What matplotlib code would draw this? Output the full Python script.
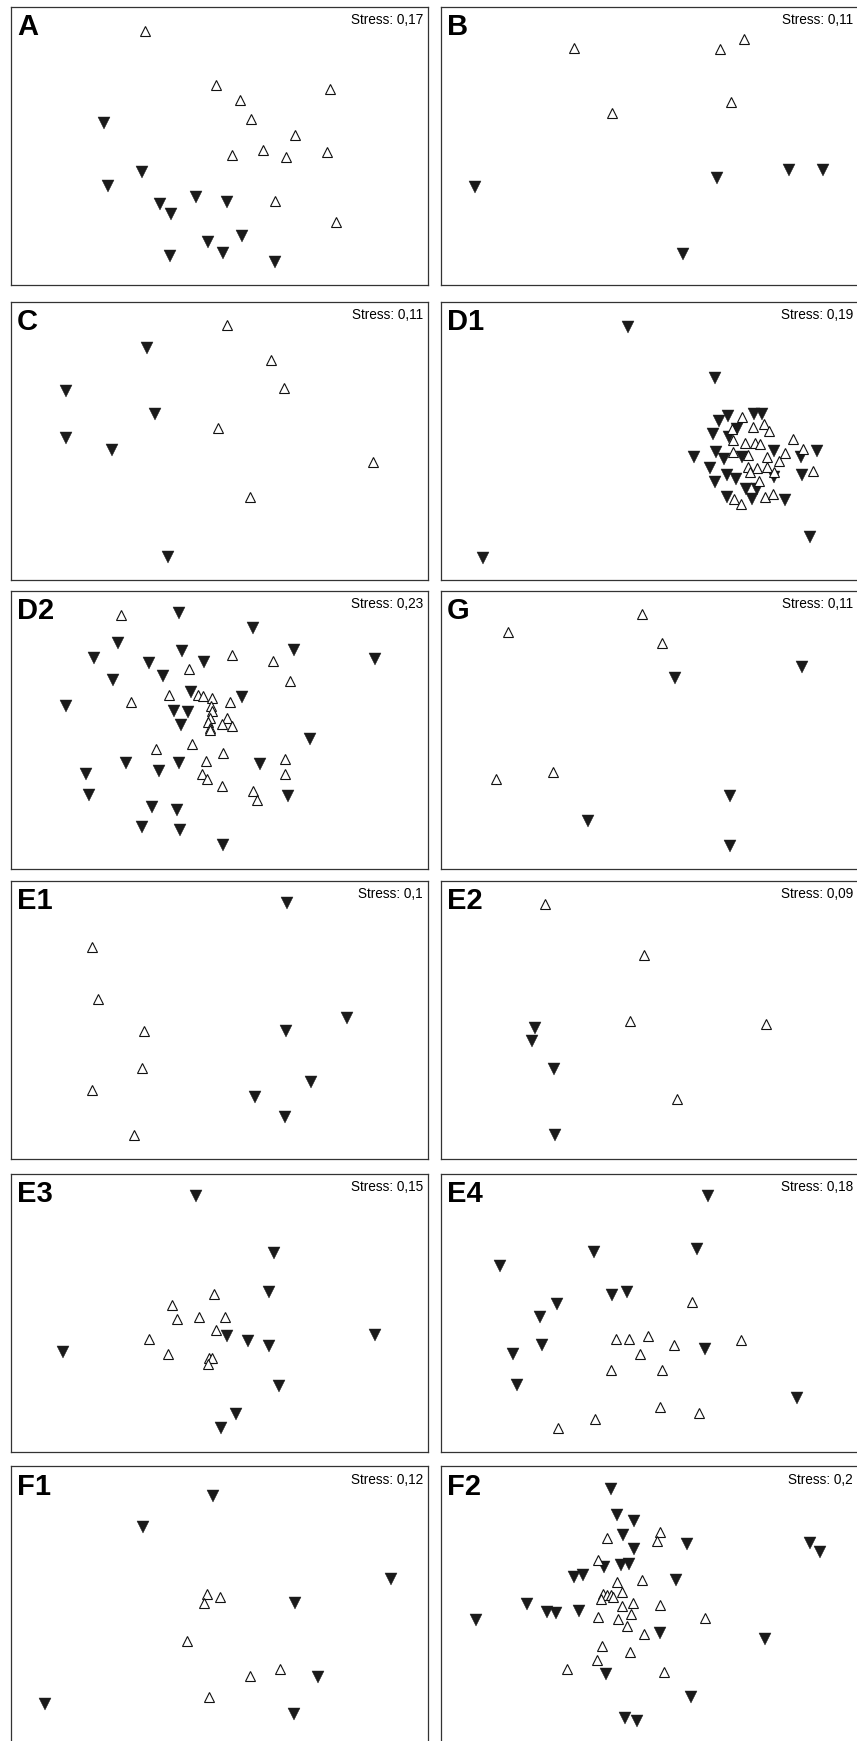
import matplotlib.pyplot as plt

# panel order, left->right, top->bottom
panels = ["A", "B", "C", "D1", "D2", "G", "E1", "E2", "E3", "E4", "F1", "F2"]
stress = ["0,17", "0,11", "0,11", "0,19", "0,23", "0,11",
          "0,1", "0,09", "0,15", "0,18", "0,12", "0,2"]

# MDS scores, as (x, y) in 0-100 of each frame
A_open = [(32.2, 91.5), (49.1, 71.8), (76.6, 70.5), (54.8, 66.4), (57.5, 59.7), (68.2, 54.1),
          (53.0, 46.8), (60.5, 48.4), (66.0, 45.9), (75.8, 47.8), (63.4, 30.3), (77.9, 22.6)]
A_fill = [(22.3, 58.2), (31.4, 40.7), (23.2, 35.7), (35.7, 29.1), (38.4, 25.6), (44.4, 31.5),
          (51.8, 30.0), (55.4, 17.6), (47.3, 15.4), (50.8, 11.4), (38.2, 10.4), (63.2, 8.3)]

B_open = [(31.9, 85.2), (67.0, 85.0), (72.6, 88.5), (69.5, 65.7), (41.1, 61.8)]
B_fill = [(8.2, 35.3), (66.1, 38.4), (83.5, 41.2), (91.5, 41.2), (58.0, 11.2)]

C_open = [(51.7, 91.7), (62.3, 79.2), (65.4, 69.2), (49.7, 54.5), (86.9, 42.5), (57.3, 29.7)]
C_fill = [(32.5, 83.4), (13.1, 68.0), (34.6, 59.7), (13.2, 51.1), (24.3, 46.7), (37.6, 8.4)]

D1_open = [(72.1, 58.5), (69.8, 54.2), (74.9, 55.1), (77.5, 56.1), (78.7, 53.7), (70.1, 50.4),
           (73.0, 49.2), (75.2, 49.2), (76.5, 48.9), (70.1, 46.2), (73.7, 45.0), (78.2, 44.1),
           (81.0, 42.8), (82.5, 45.6), (84.5, 50.6), (86.7, 47.0), (89.3, 39.3), (73.7, 40.8),
           (75.7, 40.2), (74.1, 39.0), (78.1, 40.8), (79.9, 39.0), (76.2, 35.7), (77.6, 30.0),
           (79.5, 30.8), (70.3, 29.0), (71.9, 27.3)]
D1_fill = [(44.9, 91.0), (65.6, 72.5), (10.1, 7.8), (88.5, 15.4),
           (66.7, 57.3), (68.8, 59.0), (71.1, 54.2), (65.2, 52.5), (69.1, 51.5), (75.0, 59.7),
           (77.0, 59.7), (65.9, 46.2), (60.7, 44.1), (67.9, 43.4), (72.3, 44.1), (79.9, 46.5),
           (64.5, 40.2), (68.7, 37.8), (70.7, 36.2), (65.7, 35.1), (75.7, 32.6), (73.2, 32.6),
           (74.6, 29.0), (68.5, 29.7), (79.9, 36.9), (82.4, 28.8), (86.4, 44.1), (86.5, 37.8),
           (90.1, 46.5)]

D2_open = [(26.3, 91.2), (53.1, 76.8), (62.8, 74.8), (42.7, 71.8), (66.9, 67.8), (28.8, 60.0),
           (38.0, 62.6), (44.8, 62.6), (46.0, 62.1), (48.2, 61.4), (52.4, 60.2), (48.0, 58.7),
           (48.2, 56.9), (47.8, 54.2), (47.3, 52.8), (51.8, 54.2), (50.5, 52.2), (53.0, 51.5),
           (47.8, 50.6), (47.7, 50.0), (43.3, 45.0), (34.8, 43.2), (50.8, 41.9), (46.7, 38.8),
           (65.6, 39.4), (45.8, 34.2), (47.1, 32.5), (65.6, 34.0), (50.5, 29.7), (58.0, 27.9),
           (59.0, 25.0)]
D2_fill = [(40.4, 92.2), (58.1, 86.6), (25.7, 81.4), (19.9, 76.0), (41.1, 78.4), (67.8, 78.8),
           (87.2, 75.6), (33.0, 74.0), (46.3, 74.4), (36.5, 69.4), (24.5, 68.0), (13.1, 58.8),
           (43.2, 63.6), (55.3, 61.8), (39.2, 56.9), (42.4, 56.6), (40.8, 51.8), (71.6, 46.6),
           (27.6, 38.2), (40.2, 38.2), (59.7, 37.7), (17.9, 34.3), (35.5, 35.1), (18.7, 26.7),
           (66.4, 26.4), (33.9, 22.4), (39.9, 21.2), (31.5, 15.2), (40.6, 13.9), (50.8, 8.5)]

G_open = [(48.3, 91.6), (16.0, 85.4), (52.9, 81.4), (26.8, 34.9), (13.1, 32.4)]
G_fill = [(86.5, 72.7), (56.0, 68.7), (69.2, 26.1), (35.3, 17.2), (69.2, 8.4)]

E1_open = [(19.5, 76.0), (20.8, 57.3), (31.9, 45.7), (31.5, 32.4), (19.4, 24.7), (29.5, 8.3)]
E1_fill = [(66.1, 92.0), (80.6, 50.5), (66.0, 46.0), (71.9, 27.6), (58.4, 22.0), (65.8, 15.0)]

E2_open = [(24.9, 91.6), (48.8, 73.3), (45.3, 49.3), (77.9, 48.4), (56.7, 21.5)]
E2_fill = [(22.5, 46.9), (21.9, 42.1), (27.2, 32.3), (27.4, 8.5)]

E3_open = [(48.6, 56.5), (38.7, 52.6), (39.8, 47.5), (45.0, 48.4), (51.4, 48.4), (49.1, 43.8),
           (33.1, 40.3), (37.7, 35.2), (47.5, 33.5), (48.3, 33.7), (47.3, 31.3)]
E3_fill = [(44.4, 91.8), (63.0, 71.5), (61.8, 57.3), (87.2, 41.8), (51.7, 41.5), (56.8, 39.7),
           (61.8, 38.1), (12.4, 35.7), (64.3, 23.5), (53.9, 13.6), (50.4, 8.5)]

E4_open = [(60.2, 53.7), (42.0, 40.6), (45.2, 40.6), (49.7, 41.5), (55.8, 38.4), (72.0, 40.1),
           (47.8, 35.2), (40.7, 29.2), (52.9, 29.2), (52.6, 16.0), (61.8, 14.0), (36.9, 11.8),
           (28.1, 8.3)]
E4_fill = [(64.1, 91.8), (61.4, 73.0), (36.6, 71.8), (14.1, 66.6), (41.0, 56.4), (44.5, 57.3),
           (27.9, 52.9), (23.8, 48.4), (24.3, 38.4), (17.3, 34.9), (63.2, 36.9), (18.2, 24.0),
           (85.3, 19.3)]

F1_open = [(47.1, 54.1), (50.0, 53.1), (46.2, 50.8), (42.1, 37.3), (57.2, 24.8), (64.5, 27.1),
           (47.4, 17.0)]
F1_fill = [(48.4, 89.4), (31.7, 78.3), (91.2, 59.7), (68.1, 50.9), (73.6, 24.4), (8.2, 14.5),
           (67.8, 10.8)]

F2_open = [(52.6, 76.4), (39.8, 74.2), (51.7, 73.2), (37.6, 66.2), (42.1, 58.6), (48.1, 59.0),
           (43.3, 55.0), (38.9, 54.2), (39.9, 53.6), (40.8, 53.6), (38.4, 52.4), (41.3, 53.0),
           (43.5, 49.8), (46.1, 51.0), (52.6, 50.3), (37.6, 45.8), (42.4, 45.0), (45.6, 47.0),
           (44.7, 42.6), (48.8, 39.8), (63.2, 45.5), (38.6, 35.5), (45.4, 33.1), (37.4, 30.4),
           (30.2, 27.3), (53.4, 26.2)]
F2_fill = [(40.8, 91.8), (42.1, 82.6), (46.3, 80.4), (43.6, 75.4), (58.9, 72.0), (46.3, 70.2),
           (88.4, 72.6), (91.0, 69.4), (39.2, 63.8), (43.2, 64.4), (45.2, 65.0), (32.0, 60.2),
           (34.1, 61.0), (56.4, 59.2), (20.7, 50.4), (25.3, 47.8), (27.5, 47.2), (33.0, 48.2),
           (8.4, 44.8), (52.4, 40.0), (77.7, 37.9), (39.5, 25.2), (59.9, 17.0), (44.1, 9.6),
           (47.1, 8.5)]

open_pts = {"A": A_open, "B": B_open, "C": C_open, "D1": D1_open, "D2": D2_open, "G": G_open,
            "E1": E1_open, "E2": E2_open, "E3": E3_open, "E4": E4_open, "F1": F1_open, "F2": F2_open}
fill_pts = {"A": A_fill, "B": B_fill, "C": C_fill, "D1": D1_fill, "D2": D2_fill, "G": G_fill,
            "E1": E1_fill, "E2": E2_fill, "E3": E3_fill, "E4": E4_fill, "F1": F1_fill, "F2": F2_fill}

W, H = 857, 1741
fig = plt.figure(figsize=(W / 100, H / 100), dpi=100)
plt.rcParams['font.family'] = ['Liberation Sans', 'DejaVu Sans']

# frame positions in pixels (the right column runs off the page edge)
row_tops = [7, 302, 591, 880.5, 1173.5, 1466.5]
col_lefts = [11, 441]
pw, ph = 417, 278

for i, name in enumerate(panels):
    r, c = divmod(i, 2)
    left = col_lefts[c] / W
    bottom = 1 - (row_tops[r] + ph) / H
    ax = fig.add_axes([left, bottom, pw / W, ph / H])
    ax.set_xlim(0, 100)
    ax.set_ylim(0, 100)
    ax.set_xticks([])
    ax.set_yticks([])
    for sp in ax.spines.values():
        sp.set_color('#333333')
        sp.set_linewidth(0.9)

    fx = [p[0] for p in fill_pts[name]]
    fy = [p[1] for p in fill_pts[name]]
    ax.plot(fx, fy, 'v', ms=8, color='#1a1a1a', mec='#1a1a1a', mew=0.3, ls='none')
    ox = [p[0] for p in open_pts[name]]
    oy = [p[1] for p in open_pts[name]]
    ax.plot(ox, oy, '^', ms=7.8, mfc='white', mec='#111111', mew=0.8, ls='none')

    ax.text(0.014, 0.978, name, transform=ax.transAxes, fontsize=21, fontweight='bold',
            ha='left', va='top')
    ax.text(0.988, 0.978, "Stress: " + stress[i], transform=ax.transAxes, fontsize=9.8,
            ha='right', va='top')

fig.savefig("out.png", dpi=100)
